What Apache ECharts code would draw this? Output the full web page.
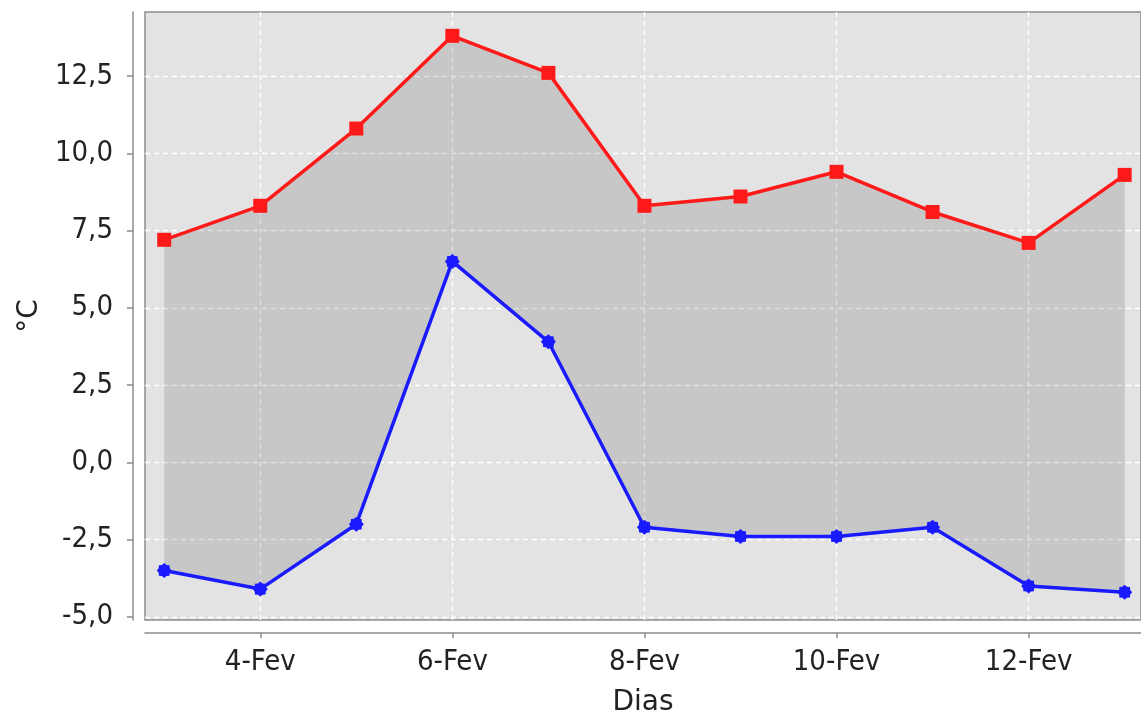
<!DOCTYPE html>
<html>
<head>
<meta charset="utf-8">
<script src="https://cdn.jsdelivr.net/npm/echarts@6/dist/echarts.min.js"></script>
<style>
html,body{margin:0;padding:0;background:#fff;}
#chart{width:1141px;height:722px;}
</style>
</head>
<body>
<div id="chart"></div>
<script>
// ---- data ----
const days = [3, 4, 5, 6, 7, 8, 9, 10, 11, 12, 13];
const maxTemps = [7.2, 8.3, 10.8, 13.8, 12.6, 8.3, 8.6, 9.4, 8.1, 7.1, 9.3];
const minTemps = [-3.5, -4.1, -2.0, 6.5, 3.9, -2.1, -2.4, -2.4, -2.1, -4.0, -4.2];
const xTickDays = [4, 6, 8, 10, 12];
const monthLabel = 'Fev';
const yTicks = [-5, -2.5, 0, 2.5, 5, 7.5, 10, 12.5];
const xTitle = 'Dias';
const yTitle = '°C';

// ---- build ----
function starPath(n, rOut, rIn) {
  let pts = [];
  for (let i = 0; i < n * 2; i++) {
    const r = i % 2 === 0 ? rOut : rIn;
    const a = Math.PI * i / n - Math.PI / 2;
    pts.push((10 + r * Math.cos(a)).toFixed(2) + ',' + (10 + r * Math.sin(a)).toFixed(2));
  }
  return 'path://M' + pts.join(' L') + ' Z';
}
const blueSymbol = starPath(8, 10, 8);

const maxPairs = days.map((d, i) => [d, maxTemps[i]]);
const minPairs = days.map((d, i) => [d, minTemps[i]]);
const bandRows = days.map((d, i) => [d, minTemps[i], maxTemps[i]]);

const tickFont = '"Liberation Sans Narrow", "DejaVu Sans Condensed", sans-serif';
const titleFont = '"DejaVu Sans", sans-serif';

const chart = echarts.init(document.getElementById('chart'), null, {renderer: 'canvas'});
chart.setOption({
  animation: false,
  backgroundColor: '#ffffff',
  grid: {
    left: 145, top: 12, right: 0, bottom: 102,
    show: true, backgroundColor: '#e3e3e3', borderColor: '#8c8c8c', borderWidth: 1.5,
    containLabel: false,
    outerBoundsMode: 'none'
  },
  xAxis: {
    type: 'value',
    min: 2.8, max: 13.17,
    offset: 13,
    name: xTitle,
    nameLocation: 'middle',
    nameGap: 56,
    nameTextStyle: {fontFamily: titleFont, fontSize: 28, color: '#222'},
    axisLine: {show: true, onZero: false, lineStyle: {color: '#8c8c8c', width: 1.5}},
    axisTick: {show: true, length: 5, customValues: xTickDays, lineStyle: {color: '#8c8c8c', width: 1.5}},
    axisLabel: {
      customValues: xTickDays, margin: 15,
      fontFamily: tickFont, fontSize: 29, color: '#222',
      formatter: v => v + '-' + monthLabel
    },
    splitLine: {show: true, lineStyle: {color: '#ffffff', width: 1.3, type: [5, 4]}}
  },
  yAxis: {
    type: 'value',
    min: -5.1, max: 14.57,
    offset: 12,
    name: yTitle,
    nameLocation: 'middle',
    nameRotate: 90,
    nameGap: 89,
    nameTextStyle: {fontFamily: titleFont, fontSize: 28, color: '#222'},
    axisLine: {show: true, lineStyle: {color: '#8c8c8c', width: 1.5}},
    axisTick: {show: true, length: 6, customValues: yTicks, lineStyle: {color: '#8c8c8c', width: 1.5}},
    axisLabel: {
      customValues: yTicks, margin: 20,
      fontFamily: tickFont, fontSize: 29, color: '#222',
      formatter: v => v.toFixed(1).replace('.', ',')
    },
    splitLine: {show: true, lineStyle: {color: '#ffffff', width: 1.3, type: [5, 4]}}
  },
  series: [
    {
      type: 'custom',
      silent: true,
      z: 1,
      data: bandRows,
      encode: {x: 0, y: [1, 2]},
      renderItem: function (params, api) {
        if (params.dataIndex !== 0) return null;
        const top = bandRows.map(r => api.coord([r[0], r[2]]));
        const bottom = bandRows.slice().reverse().map(r => api.coord([r[0], r[1]]));
        return {
          type: 'polygon',
          shape: {points: top.concat(bottom)},
          style: {fill: 'rgba(0,0,0,0.12)'}
        };
      }
    },
    {
      type: 'line', data: maxPairs, z: 3,
      symbol: 'rect', symbolSize: 14,
      lineStyle: {color: '#ff1a1a', width: 3.5},
      itemStyle: {color: '#ff1a1a'}
    },
    {
      type: 'line', data: minPairs, z: 3,
      symbol: blueSymbol, symbolSize: 15,
      lineStyle: {color: '#1a1aff', width: 3.5},
      itemStyle: {color: '#1a1aff'}
    }
  ]
});
</script>
</body>
</html>
